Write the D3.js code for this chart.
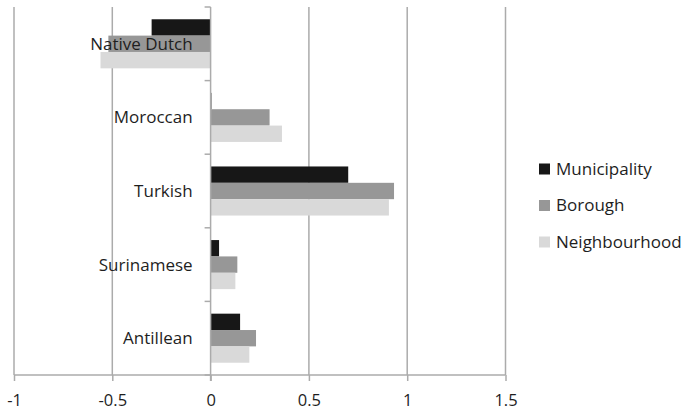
<!DOCTYPE html>
<html>
<head>
<meta charset="utf-8">
<script src="https://cdn.jsdelivr.net/npm/d3@7"></script>
<style>
  html, body { margin: 0; padding: 0; background: #fff; }
  svg { display: block; font-family: "Open Sans", "Liberation Sans", Arial, sans-serif; }
</style>
</head>
<body>
<svg id="chart" width="687" height="411"></svg>
<script>
const categories = ["Native Dutch", "Moroccan", "Turkish", "Surinamese", "Antillean"];
const seriesNames = ["Municipality", "Borough", "Neighbourhood"];
const municipality = [-0.30, 0.004, 0.70, 0.043, 0.15];
const borough = [-0.52, 0.30, 0.933, 0.136, 0.231];
const neighbourhood = [-0.56, 0.363, 0.907, 0.126, 0.197];
const xTicks = [-1, -0.5, 0, 0.5, 1, 1.5];
const colors = ["#171717", "#979797", "#d9d9d9"];

const seriesValues = [municipality, borough, neighbourhood];
const svg = d3.select("#chart");
const FONT = "'Open Sans', 'Liberation Sans', Arial, sans-serif";

const pLeft = 14, pRight = 505.5, pTop = 7, pBottom = 375;

const x = d3.scaleLinear().domain([-1, 1.5]).range([pLeft, pRight]);
const y = d3.scaleBand().domain(categories).range([pTop, pBottom]).paddingInner(1/3).paddingOuter(1/6);
const ySub = d3.scaleBand().domain(seriesNames).range([0, y.bandwidth()]);

// gridlines
svg.append("g").selectAll("line").data(xTicks.filter(t => t !== 0)).join("line")
  .attr("x1", d => x(d)).attr("x2", d => x(d))
  .attr("y1", pTop).attr("y2", pBottom)
  .attr("stroke", "#ababab").attr("stroke-width", 1.5);

// bars
const rows = [];
categories.forEach((c, i) => seriesNames.forEach((s, j) => rows.push({c, s, j, v: seriesValues[j][i]})));
svg.append("g").selectAll("rect").data(rows).join("rect")
  .attr("x", d => x(Math.min(0, d.v)))
  .attr("width", d => Math.max(0.8, Math.abs(x(d.v) - x(0))))
  .attr("y", d => y(d.c) + ySub(d.s))
  .attr("height", ySub.bandwidth())
  .attr("fill", d => colors[d.j]);

// bottom axis
const xAxis = d3.axisBottom(x).tickValues(xTicks).tickSize(6).tickPadding(13)
  .tickFormat(d => String(d));
const gx = svg.append("g").attr("transform", `translate(0,${pBottom})`).call(xAxis);
gx.select(".domain").attr("stroke", "#ababab").attr("stroke-width", 1.5).attr("d", `M${pLeft},0H${pRight}`);
gx.selectAll(".tick line").attr("stroke", "#ababab").attr("stroke-width", 1.5);
gx.selectAll(".tick text").attr("font-size", 16.5).attr("fill", "#1e1e1e").attr("font-family", FONT);

// vertical axis at zero
svg.append("line").attr("x1", x(0)).attr("x2", x(0)).attr("y1", pTop).attr("y2", pBottom + 6)
  .attr("stroke", "#ababab").attr("stroke-width", 1.5);
svg.append("g").selectAll("line").data(d3.range(categories.length + 1)).join("line")
  .attr("x1", x(0) - 6).attr("x2", x(0))
  .attr("y1", i => pTop + i * y.step()).attr("y2", i => pTop + i * y.step())
  .attr("stroke", "#ababab").attr("stroke-width", 1.5);

// category labels
svg.append("g").selectAll("text").data(categories).join("text")
  .attr("x", x(0) - 18)
  .attr("y", d => y(d) + y.bandwidth() / 2)
  .attr("dy", "0.35em")
  .attr("text-anchor", "end")
  .attr("font-size", 17)
  .attr("fill", "#1e1e1e")
  .text(d => d);

// legend
const legend = svg.append("g").attr("transform", "translate(539,0)");
const ly = [169, 205.5, 242];
seriesNames.forEach((s, j) => {
  legend.append("rect").attr("x", 0).attr("y", ly[j] - 5.5).attr("width", 11).attr("height", 11).attr("fill", colors[j]);
  legend.append("text").attr("x", 17).attr("y", ly[j]).attr("dy", "0.35em")
    .attr("font-size", 17).attr("fill", "#1e1e1e").text(s);
});
</script>
</body>
</html>
